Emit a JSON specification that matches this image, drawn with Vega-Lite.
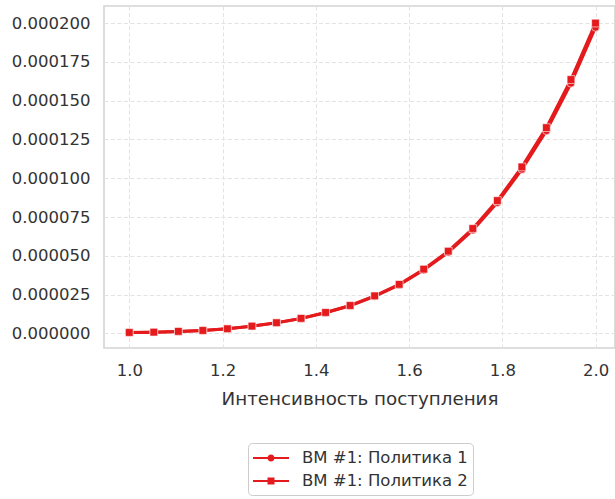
{
  "$schema": "https://vega.github.io/schema/vega-lite/v6.json",
  "width": 511,
  "height": 342,
  "autosize": {"type": "none"},
  "padding": {"left": 104, "top": 6, "right": 0, "bottom": 151},
  "background": "white",
  "config": {
    "font": "DejaVu Sans",
    "view": {"stroke": "#d4d4d4", "strokeWidth": 1.6},
    "axis": {
      "domain": false,
      "ticks": false,
      "tickSize": 0,
      "grid": true,
      "gridColor": "#e3e3e3",
      "gridDash": [4, 2.5],
      "gridWidth": 1,
      "labelFont": "DejaVu Sans",
      "labelFontSize": 16.5,
      "labelColor": "#333333",
      "titleFont": "DejaVu Sans",
      "titleFontSize": 18.3,
      "titleFontWeight": "normal",
      "titleColor": "#333333"
    }
  },
  "data": {
    "values": [
      {"x": 1.0, "y": 0.0000006, "s": "ВМ #1: Политика 1"},
      {"x": 1.052632, "y": 0.0000008, "s": "ВМ #1: Политика 1"},
      {"x": 1.105263, "y": 0.0000013, "s": "ВМ #1: Политика 1"},
      {"x": 1.157895, "y": 0.0000019, "s": "ВМ #1: Политика 1"},
      {"x": 1.210526, "y": 0.000003, "s": "ВМ #1: Политика 1"},
      {"x": 1.263158, "y": 0.0000046, "s": "ВМ #1: Политика 1"},
      {"x": 1.315789, "y": 0.0000068, "s": "ВМ #1: Политика 1"},
      {"x": 1.368421, "y": 0.0000096, "s": "ВМ #1: Политика 1"},
      {"x": 1.421053, "y": 0.0000133, "s": "ВМ #1: Политика 1"},
      {"x": 1.473684, "y": 0.0000178, "s": "ВМ #1: Политика 1"},
      {"x": 1.526316, "y": 0.0000239, "s": "ВМ #1: Политика 1"},
      {"x": 1.578947, "y": 0.0000312, "s": "ВМ #1: Политика 1"},
      {"x": 1.631579, "y": 0.0000408, "s": "ВМ #1: Политика 1"},
      {"x": 1.684211, "y": 0.0000522, "s": "ВМ #1: Политика 1"},
      {"x": 1.736842, "y": 0.0000666, "s": "ВМ #1: Политика 1"},
      {"x": 1.789474, "y": 0.0000843, "s": "ВМ #1: Политика 1"},
      {"x": 1.842105, "y": 0.0001057, "s": "ВМ #1: Политика 1"},
      {"x": 1.894737, "y": 0.0001306, "s": "ВМ #1: Политика 1"},
      {"x": 1.947368, "y": 0.0001612, "s": "ВМ #1: Политика 1"},
      {"x": 2.0, "y": 0.0001972, "s": "ВМ #1: Политика 1"},
      {"x": 1.0, "y": 0.0000006, "s": "ВМ #1: Политика 2"},
      {"x": 1.052632, "y": 0.0000008, "s": "ВМ #1: Политика 2"},
      {"x": 1.105263, "y": 0.0000013, "s": "ВМ #1: Политика 2"},
      {"x": 1.157895, "y": 0.0000019, "s": "ВМ #1: Политика 2"},
      {"x": 1.210526, "y": 0.000003, "s": "ВМ #1: Политика 2"},
      {"x": 1.263158, "y": 0.0000047, "s": "ВМ #1: Политика 2"},
      {"x": 1.315789, "y": 0.0000069, "s": "ВМ #1: Политика 2"},
      {"x": 1.368421, "y": 0.0000097, "s": "ВМ #1: Политика 2"},
      {"x": 1.421053, "y": 0.0000135, "s": "ВМ #1: Политика 2"},
      {"x": 1.473684, "y": 0.000018, "s": "ВМ #1: Политика 2"},
      {"x": 1.526316, "y": 0.0000242, "s": "ВМ #1: Политика 2"},
      {"x": 1.578947, "y": 0.0000316, "s": "ВМ #1: Политика 2"},
      {"x": 1.631579, "y": 0.0000414, "s": "ВМ #1: Политика 2"},
      {"x": 1.684211, "y": 0.000053, "s": "ВМ #1: Политика 2"},
      {"x": 1.736842, "y": 0.0000676, "s": "ВМ #1: Политика 2"},
      {"x": 1.789474, "y": 0.0000856, "s": "ВМ #1: Политика 2"},
      {"x": 1.842105, "y": 0.0001073, "s": "ВМ #1: Политика 2"},
      {"x": 1.894737, "y": 0.0001326, "s": "ВМ #1: Политика 2"},
      {"x": 1.947368, "y": 0.0001636, "s": "ВМ #1: Политика 2"},
      {"x": 2.0, "y": 0.0002, "s": "ВМ #1: Политика 2"}
    ]
  },
  "encoding": {
    "x": {
      "field": "x",
      "type": "quantitative",
      "scale": {"domain": [0.9458, 2.0418], "nice": false, "zero": false},
      "axis": {
        "title": "Интенсивность поступления",
        "values": [1.0, 1.2, 1.4, 1.6, 1.8, 2.0],
        "format": ".1f",
        "labelPadding": 14,
        "titlePadding": 12
      }
    },
    "y": {
      "field": "y",
      "type": "quantitative",
      "scale": {"domain": [-0.0000094, 0.000211], "nice": false, "zero": false},
      "axis": {
        "title": null,
        "values": [0, 0.000025, 0.00005, 0.000075, 0.0001, 0.000125, 0.00015, 0.000175, 0.0002],
        "format": ".6f",
        "labelPadding": 14
      }
    }
  },
  "layer": [
    {
      "mark": {"type": "line", "color": "#e41a1c", "strokeWidth": 3},
      "encoding": {"detail": {"field": "s"}}
    },
    {
      "transform": [{"filter": "datum.s === 'ВМ #1: Политика 1'"}],
      "mark": {"type": "point", "shape": "circle", "filled": true, "color": "#e41a1c", "opacity": 1, "size": 60, "stroke": "white", "strokeWidth": 0.6}
    },
    {
      "transform": [{"filter": "datum.s === 'ВМ #1: Политика 2'"}],
      "mark": {"type": "point", "shape": "square", "filled": true, "color": "#e41a1c", "opacity": 1, "size": 60, "stroke": "white", "strokeWidth": 0.6}
    },
    {
      "mark": {"type": "point", "filled": true, "opacity": 0, "color": "#e41a1c"},
      "encoding": {
        "shape": {
          "field": "s",
          "type": "nominal",
          "scale": {
            "domain": ["ВМ #1: Политика 1", "ВМ #1: Политика 2"],
            "range": [
              "M-1,-0.1H2.6V0.1H-1Z M1.15,0A0.35,0.35 0 1,1 0.45,0A0.35,0.35 0 1,1 1.15,0Z",
              "M-1,-0.1H2.6V0.1H-1Z M0.45,-0.35H1.15V0.35H0.45Z"
            ]
          },
          "legend": {
            "title": null,
            "orient": "none",
            "legendX": 144,
            "legendY": 437,
            "padding": 5,
            "symbolSize": 400,
            "symbolOpacity": 1,
            "symbolFillColor": "#e41a1c",
            "symbolStrokeWidth": 0,
            "labelOffset": 29,
            "labelFont": "DejaVu Sans",
            "labelFontSize": 16.5,
            "labelColor": "#333333",
            "rowPadding": 4,
            "strokeColor": "#cccccc",
            "fillColor": "white",
            "cornerRadius": 4,
            "labelLimit": 300
          }
        }
      }
    }
  ]
}
